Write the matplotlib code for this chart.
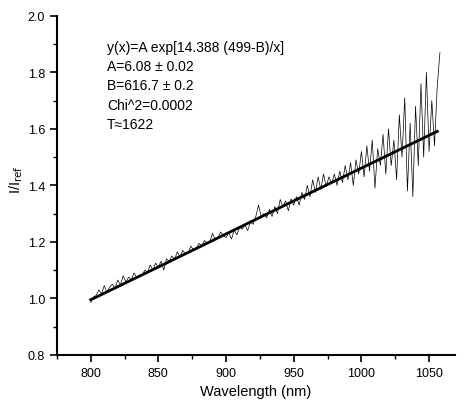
import numpy as np
import matplotlib.pyplot as plt

plt.rcParams['font.family'] = ['Liberation Sans', 'DejaVu Sans']

# gemeten spectrum, stappen van 2 nm
golflengte = list(range(800, 1060, 2))
verhouding = [
    0.985, 1.005, 1.010, 1.030, 1.016, 1.045, 1.022, 1.040, 1.050, 1.036,
    1.065, 1.048, 1.080, 1.058, 1.075, 1.066, 1.090, 1.073, 1.082, 1.083,
    1.100, 1.092, 1.118, 1.100, 1.125, 1.110, 1.132, 1.100, 1.140, 1.131,
    1.150, 1.138, 1.165, 1.147, 1.170, 1.157, 1.162, 1.185, 1.171, 1.176,
    1.195, 1.185, 1.205, 1.194, 1.200, 1.230, 1.208, 1.213, 1.235, 1.222,
    1.215, 1.232, 1.210, 1.241, 1.225, 1.252, 1.245, 1.260, 1.240, 1.270,
    1.262, 1.290, 1.330, 1.288, 1.300, 1.285, 1.315, 1.290, 1.325, 1.300,
    1.350, 1.325, 1.345, 1.310, 1.352, 1.330, 1.360, 1.330, 1.375, 1.350,
    1.400, 1.360, 1.420, 1.375, 1.430, 1.385, 1.440, 1.395, 1.430, 1.405,
    1.440, 1.400, 1.450, 1.410, 1.470, 1.420, 1.480, 1.400, 1.490, 1.440,
    1.520, 1.430, 1.540, 1.450, 1.560, 1.390, 1.530, 1.470, 1.580, 1.440,
    1.600, 1.470, 1.560, 1.420, 1.650, 1.500, 1.710, 1.380, 1.620, 1.360,
    1.680, 1.470, 1.760, 1.500, 1.800, 1.520, 1.700, 1.540, 1.750, 1.870,
]

# fit
fit_golflengte = [800, 850, 900, 950, 1000, 1056]
fit_verhouding = [0.995, 1.111, 1.228, 1.345, 1.461, 1.591]

tekst = ['y(x)=A exp[14.388 (499-B)/x]',
         'A=6.08 \u00b1 0.02',
         'B=616.7 \u00b1 0.2',
         'Chi^2=0.0002',
         'T\u22481622']

fig = plt.figure(figsize=(4.66, 4.10), dpi=100)
ax = fig.add_axes([0.122, 0.132, 0.854, 0.827])

ax.plot(golflengte, verhouding, color='black', lw=0.5)
ax.plot(fit_golflengte, fit_verhouding, color='black', lw=2.0)

for i, regel in enumerate(tekst):
    ax.text(812, 1.89 - i * 0.068, regel, fontsize=10, va='center')

ax.set_xlim(775, 1069)
ax.set_ylim(0.8, 2.0)
ax.set_xticks([800, 850, 900, 950, 1000, 1050])
ax.set_xticks(np.arange(775, 1070, 25), minor=True)
ax.set_yticks([0.8, 1.0, 1.2, 1.4, 1.6, 1.8, 2.0])
ax.set_yticks(np.arange(0.8, 2.01, 0.1), minor=True)
ax.tick_params(which='major', length=5, width=1.2, labelsize=9)
ax.tick_params(which='minor', length=3, width=1.0)

ax.spines['top'].set_visible(False)
ax.spines['right'].set_visible(False)
ax.spines['left'].set_linewidth(1.5)
ax.spines['bottom'].set_linewidth(1.5)

ax.set_xlabel('Wavelength (nm)', fontsize=10.5)
ax.set_ylabel(r'I/I$_{\rm ref}$', fontsize=10.5)
ax.yaxis.set_label_coords(-0.08, 0.52)

fig.savefig('out.png', dpi=100)
